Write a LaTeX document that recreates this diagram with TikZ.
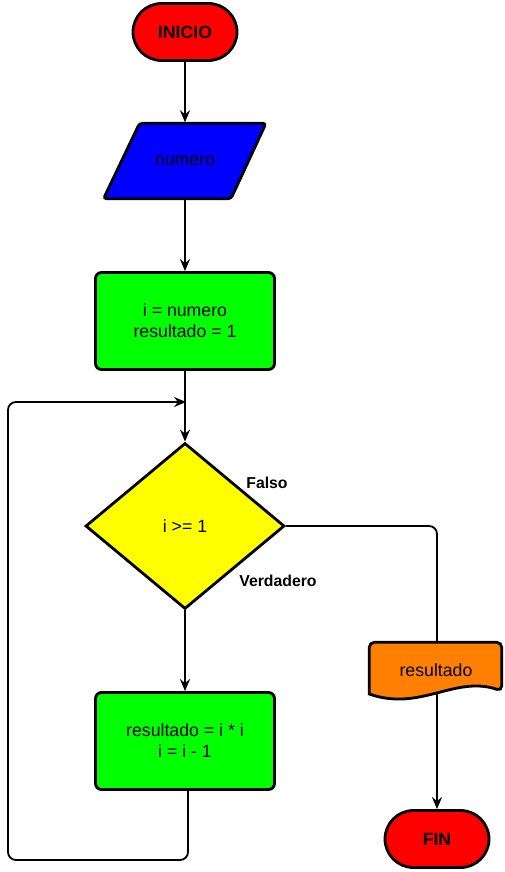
\documentclass[tikz,border=0pt]{standalone}
\usepackage{fontspec}
\setmainfont{Liberation Sans}
\usetikzlibrary{shapes.geometric,shapes.misc,arrows.meta}
\pgfdeclarelayer{bg}
\pgfsetlayers{bg,main}
\definecolor{cred}{HTML}{FF0000}
\definecolor{cblue}{HTML}{0000FF}
\definecolor{cgreen}{HTML}{00FF00}
\definecolor{cyellow}{HTML}{FFFF00}
\definecolor{corange}{HTML}{FF8000}
\begin{document}
\begin{tikzpicture}[x=1pt,y=-1pt,
  shp/.style={draw=black, line width=2.8pt, text=black, align=center, inner sep=0pt,
    font=\fontsize{17.7}{21}\selectfont},
  term/.style={shp, rounded rectangle, fill=cred, minimum width=104pt, minimum height=57pt,
    font=\bfseries\fontsize{17.7}{21}\selectfont},
  proc/.style={shp, rectangle, rounded corners=6pt, fill=cgreen, minimum width=179pt, minimum height=97pt},
  decis/.style={shp, diamond, fill=cyellow, minimum width=199pt, minimum height=166pt},
  txt/.style={text=black, align=center, inner sep=0pt, font=\fontsize{17.7}{21}\selectfont},
  lbl/.style={text=black, inner sep=0pt, font=\bfseries\fontsize{15.8}{19}\selectfont},
  conn/.style={draw=black, line width=1.8pt, -{Stealth[length=12pt,width=10pt,inset=4pt]}},
  plain/.style={draw=black, line width=1.8pt}
]
\useasboundingbox (0,0) rectangle (505,872);

% shapes
\node[term] (ini) at (185,32) {INICIO};

\filldraw[fill=cblue, draw=black, line width=2.8pt, rounded corners=3pt]
  (139.5,123.3) -- (266,123.3) -- (231,198.7) -- (103.5,198.7) -- cycle;
\node[txt, minimum width=130pt, minimum height=77pt] (num) at (185,161) {numero};

\node[proc] (r1) at (185,321) {i = numero\\resultado = 1};
\node[decis] (d) at (185,526) {i >= 1};
\node[proc] (r2) at (185,741) {resultado = i * i\\i = i - 1};

\filldraw[fill=corange, draw=black, line width=2.8pt]
  {[rounded corners=5pt] (369.3,694) -- (369.3,642.3) -- (501.7,642.3) -- (501.7,691)}
  .. controls (455,675) and (420,712) .. (369.3,694) -- cycle;
\node[txt] (doc) at (436,670) {resultado};

\node[term] (fin) at (437,839) {FIN};

\node[lbl] (fl) at (267,483) {Falso};
\node[lbl] (vl) at (278,581) {Verdadero};

\coordinate (docc) at (437,670);
\coordinate (lc) at (8,860);
\coordinate (loopin) at (186,402);

% connectors
\begin{pgfonlayer}{bg}
\draw[conn] (ini) -- (num.north);
\draw[conn] (num.south) -- (r1.north);
\draw[conn] (r1) -- (d.north);
\draw[conn] (d) -- (r2.north);
\draw[plain, rounded corners=8pt] (d.east) -| (docc);
\draw[conn] (docc) -- (fin.north);
\draw[conn, rounded corners=8pt] ([xshift=3pt]r2.center) |- (lc) |- (loopin);
\end{pgfonlayer}
\end{tikzpicture}
\end{document}
